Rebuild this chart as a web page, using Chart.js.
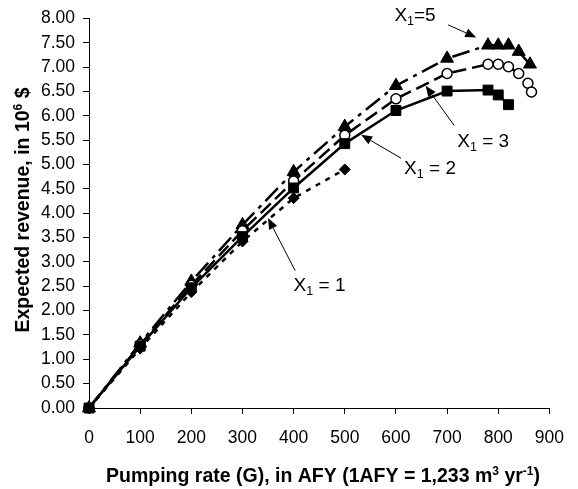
<!DOCTYPE html>
<html>
<head>
<meta charset="utf-8">
<script src="https://cdn.jsdelivr.net/npm/chart.js@4.4.1/dist/chart.umd.min.js"></script>
<style>
  html, body { margin: 0; padding: 0; background: #fff; }
  canvas { display: block; }
</style>
</head>
<body>
<canvas id="revenueChart" width="578" height="489"></canvas>
<script>
const FONT = "'Liberation Sans', Arial, Helvetica, sans-serif";

// pumping rate G (AFY) and expected revenue (10^6 $), one pair per X1 curve
const rateX1 = [0, 100, 200, 300, 400, 500];
const revX1 = [0, 1.22, 2.38, 3.42, 4.31, 4.90];

const rateX2 = [0, 100, 200, 300, 400, 500, 600, 700, 780, 800, 820];
const revX2 = [0, 1.27, 2.47, 3.52, 4.52, 5.43, 6.11, 6.51, 6.53, 6.43, 6.23];

const rateX3 = [0, 100, 200, 300, 400, 500, 600, 700, 780, 800, 820, 840, 858, 865];
const revX3 = [0, 1.30, 2.52, 3.64, 4.66, 5.60, 6.35, 6.87, 7.06, 7.06, 7.01, 6.87, 6.67, 6.49];

const rateX5 = [0, 100, 200, 300, 400, 500, 600, 700, 780, 800, 820, 840, 862];
const revX5 = [0, 1.33, 2.60, 3.76, 4.85, 5.78, 6.62, 7.18, 7.45, 7.45, 7.45, 7.32, 7.06];

const xMin = 0, xMax = 900, xStep = 100;
const yMin = 0, yMax = 8, yStep = 0.5;

// curve labels: text anchor, arrow start, arrow tip (data coords)
const notes = [
  { rest: "=5",  at: [597, 8.09], from: [702, 7.87], to: [757, 7.61] },
  { rest: " = 3", at: [720, 5.50], from: [714, 5.80], to: [658, 6.62] },
  { rest: " = 2", at: [616, 4.95], from: [610, 5.13], to: [532, 5.61] },
  { rest: " = 1", at: [400, 2.55], from: [403, 2.82], to: [350, 3.90] },
];

function pts(xs, ys) {
  return xs.map((x, i) => ({ x, y: ys[i] }));
}

function drawParts(ctx, parts, x, y) {
  // parts: [text, size, bold, dy]
  let cx = x;
  parts.forEach(([t, size, bold, dy]) => {
    ctx.font = `${bold ? "bold " : ""}${size}px ${FONT}`;
    ctx.fillText(t, cx, y + dy);
    cx += ctx.measureText(t).width;
  });
}

function partsWidth(ctx, parts) {
  let w = 0;
  parts.forEach(([t, size, bold]) => {
    ctx.font = `${bold ? "bold " : ""}${size}px ${FONT}`;
    w += ctx.measureText(t).width;
  });
  return w;
}

function arrow(ctx, x1, y1, x2, y2) {
  const a = Math.atan2(y2 - y1, x2 - x1);
  const len = 11, half = 4.5;
  const bx = x2 - len * Math.cos(a), by = y2 - len * Math.sin(a);
  ctx.lineWidth = 1;
  ctx.beginPath();
  ctx.moveTo(x1, y1);
  ctx.lineTo(bx, by);
  ctx.stroke();
  ctx.beginPath();
  ctx.moveTo(x2, y2);
  ctx.lineTo(bx + half * Math.sin(a), by - half * Math.cos(a));
  ctx.lineTo(bx - half * Math.sin(a), by + half * Math.cos(a));
  ctx.closePath();
  ctx.fill();
}

const textPlugin = {
  id: "textPlugin",
  afterDraw(chart) {
    const { ctx, scales: { x, y } } = chart;
    ctx.save();
    ctx.fillStyle = "#000";
    ctx.strokeStyle = "#000";
    ctx.textBaseline = "alphabetic";
    ctx.textAlign = "left";

    notes.forEach((n) => {
      arrow(ctx,
        x.getPixelForValue(n.from[0]), y.getPixelForValue(n.from[1]),
        x.getPixelForValue(n.to[0]), y.getPixelForValue(n.to[1]));
      const base = y.getPixelForValue(n.at[1]) + 7;
      drawParts(ctx, [["X", 19, false, 0], ["1", 12.5, false, 4], [n.rest, 19, false, 0]],
        x.getPixelForValue(n.at[0]), base);
    });

    // x axis title
    const xt = [
      ["Pumping rate (G), in AFY (1AFY = 1,233 m", 19.5, true, 0],
      ["3", 12, true, -7],
      [" yr", 19.5, true, 0],
      ["-1", 12, true, -7],
      [")", 19.5, true, 0],
    ];
    const xw = partsWidth(ctx, xt);
    drawParts(ctx, xt, 323 - xw / 2, 482);

    // y axis title
    const yt = [
      ["Expected revenue, in 10", 19.5, true, 0],
      ["6", 12, true, -7],
      [" $", 19.5, true, 0],
    ];
    const yw = partsWidth(ctx, yt);
    ctx.translate(29, 210);
    ctx.rotate(-Math.PI / 2);
    drawParts(ctx, yt, -yw / 2, 0);
    ctx.restore();
  }
};

const common = {
  borderColor: "#000",
  borderWidth: 2.5,
  pointBorderColor: "#000",
  pointBackgroundColor: "#000",
  pointBorderWidth: 1,
  tension: 0,
  clip: false,
};

new Chart(document.getElementById("revenueChart"), {
  type: "line",
  data: {
    datasets: [
      {
        ...common,
        label: "X1 = 1",
        data: pts(rateX1, revX1),
        borderDash: [5, 6],
        pointStyle: "rectRot",
        pointRadius: 5.5,
      },
      {
        ...common,
        label: "X1 = 2",
        data: pts(rateX2, revX2),
        pointStyle: "rect",
        pointRadius: 7,
      },
      {
        ...common,
        label: "X1 = 3",
        data: pts(rateX3, revX3),
        borderDash: [14, 6],
        pointStyle: "circle",
        pointRadius: 5,
        pointBackgroundColor: "#fff",
        pointBorderWidth: 1.5,
      },
      {
        ...common,
        label: "X1 = 5",
        data: pts(rateX5, revX5),
        borderDash: [18, 6, 4, 6],
        pointStyle: "triangle",
        pointRadius: 7.5,
      },
    ],
  },
  options: {
    responsive: false,
    animation: false,
    devicePixelRatio: 1,
    layout: { padding: { left: 0, right: 20, top: 17, bottom: 0 } },
    plugins: {
      legend: { display: false },
      tooltip: { enabled: false },
    },
    scales: {
      x: {
        type: "linear",
        min: xMin,
        max: xMax,
        ticks: { stepSize: xStep, color: "#000", font: { family: FONT, size: 17.5 }, padding: 14 },
        grid: { drawOnChartArea: false, color: "#000", tickLength: 6 },
        border: { color: "#000", width: 1 },
        afterFit: (s) => { s.height = 81; },
      },
      y: {
        min: yMin,
        max: yMax,
        ticks: {
          stepSize: yStep,
          color: "#000",
          font: { family: FONT, size: 17.5 },
          padding: 8,
          callback: (v) => Number(v).toFixed(2),
        },
        grid: { drawOnChartArea: false, color: "#000", tickLength: 6 },
        border: { color: "#000", width: 1 },
        afterFit: (s) => { s.width = 89; },
      },
    },
  },
  plugins: [textPlugin],
});
</script>
</body>
</html>
